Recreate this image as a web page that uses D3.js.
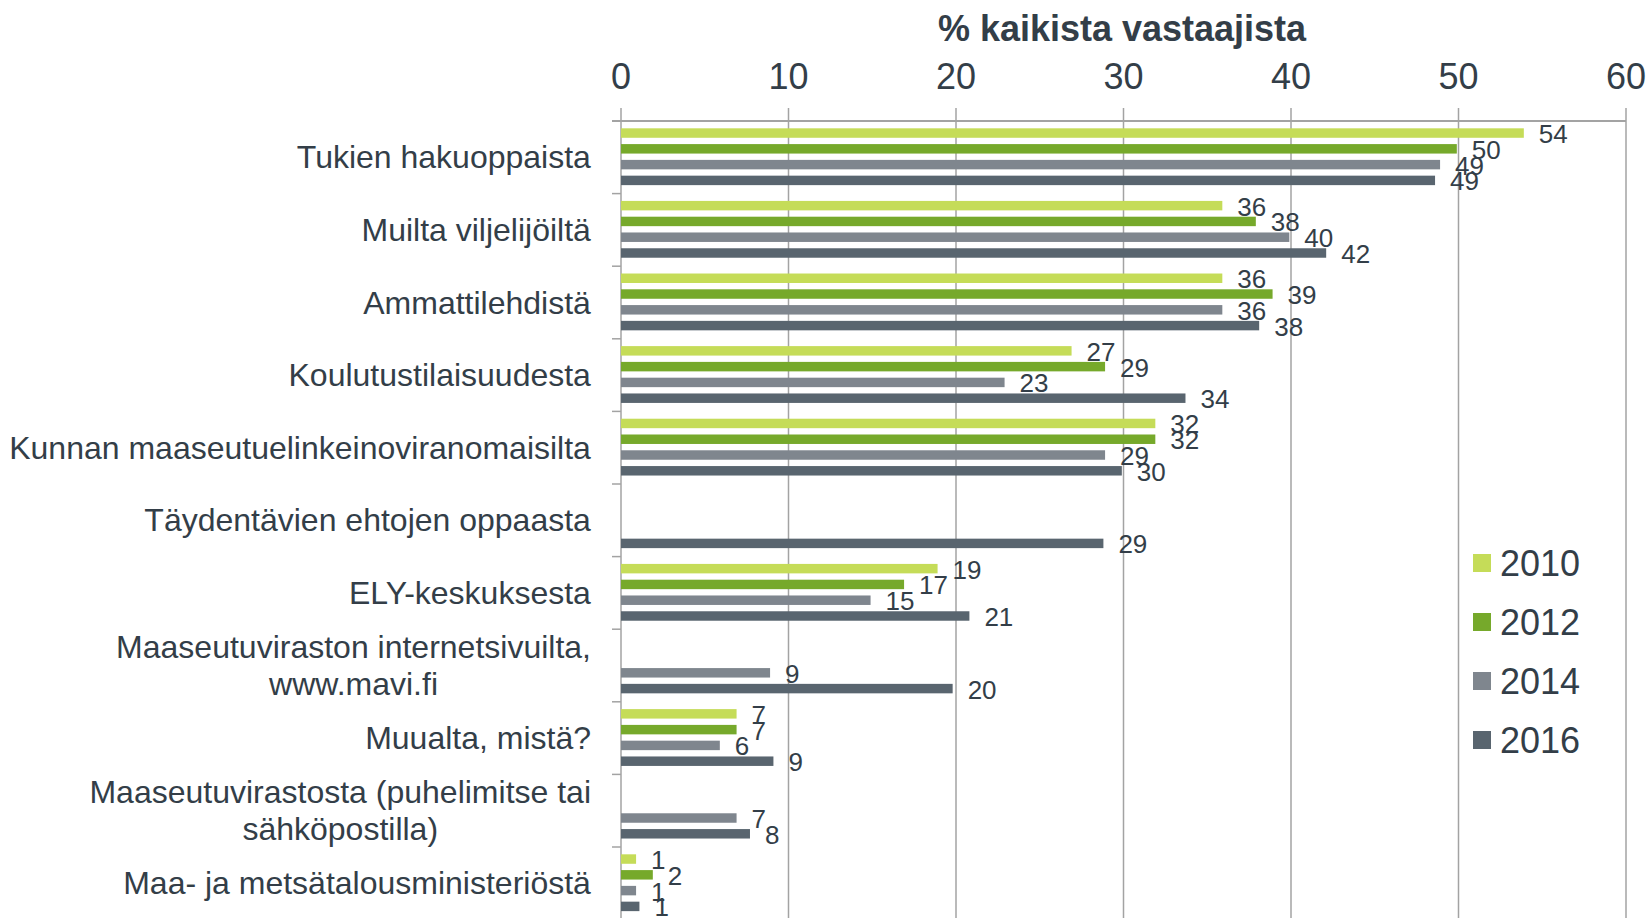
<!DOCTYPE html>
<html>
<head>
<meta charset="utf-8">
<script src="https://cdn.jsdelivr.net/npm/d3@7"></script>
<style>
  body { margin: 0; background: #fff; }
  text { font-family: "Liberation Sans", Arial, sans-serif; fill: #333e48; }
</style>
</head>
<body>
<svg id="chart" width="1650" height="918"></svg>
<script>
// categories, one or two lines each
var categories = [
  ["Tukien hakuoppaista"],
  ["Muilta viljelijöiltä"],
  ["Ammattilehdistä"],
  ["Koulutustilaisuudesta"],
  ["Kunnan maaseutuelinkeinoviranomaisilta"],
  ["Täydentävien ehtojen oppaasta"],
  ["ELY-keskuksesta"],
  ["Maaseutuviraston internetsivuilta,", "www.mavi.fi"],
  ["Muualta, mistä?"],
  ["Maaseutuvirastosta (puhelimitse tai", "sähköpostilla)"],
  ["Maa- ja metsätalousministeriöstä"]
];
var years = ["2010", "2012", "2014", "2016"];
var colors = ["#c5dc58", "#76a92b", "#7f868e", "#59656f"];

// % kaikista vastaajista, null = not asked that year
var v2010 = [53.9, 35.9, 35.9, 26.9, 31.9, null, 18.9, null, 6.9, null, 0.9];
var v2012 = [49.9, 37.9, 38.9, 28.9, 31.9, null, 16.9, null, 6.9, null, 1.9];
var v2014 = [48.9, 39.9, 35.9, 22.9, 28.9, null, 14.9, 8.9, 5.9, 6.9, 0.9];
var v2016 = [48.6, 42.1, 38.1, 33.7, 29.9, 28.8, 20.8, 19.8, 9.1, 7.7, 1.1];
var xTicks = [0, 10, 20, 30, 40, 50, 60];

var series = [v2010, v2012, v2014, v2016];

var svg = d3.select("#chart");
var top_y = 121, band = 72.6;

var x = d3.scaleLinear().domain([0, 60]).range([621, 1626]);
var y = d3.scaleBand().domain(d3.range(categories.length))
  .range([top_y, top_y + band * categories.length]);
var yInner = d3.scaleBand().domain(years).range([1, band + 1])
  .paddingInner(0.4).paddingOuter(0.5).align(0.4);

// grid lines
svg.selectAll("line.grid").data(xTicks).enter()
  .append("line")
  .attr("x1", d => x(d)).attr("x2", d => x(d))
  .attr("y1", top_y - 13).attr("y2", 918)
  .attr("stroke", "#a3a3a3").attr("stroke-width", 1.5);

// top axis line
svg.append("line")
  .attr("x1", x(0) - 9).attr("x2", x(60))
  .attr("y1", top_y).attr("y2", top_y)
  .attr("stroke", "#a3a3a3").attr("stroke-width", 2);

// left axis ticks
svg.selectAll("line.ytick").data(d3.range(categories.length + 1)).enter()
  .append("line")
  .attr("x1", x(0) - 9).attr("x2", x(0))
  .attr("y1", d => top_y + d * band).attr("y2", d => top_y + d * band)
  .attr("stroke", "#a3a3a3").attr("stroke-width", 1.5);

// tick labels
svg.selectAll("text.xtick").data(xTicks).enter()
  .append("text")
  .attr("x", d => x(d)).attr("y", 89)
  .attr("text-anchor", "middle")
  .style("font-size", "36px")
  .text(d => d);

// axis title
svg.append("text")
  .attr("x", 1122).attr("y", 41)
  .attr("text-anchor", "middle")
  .style("font-size", "36px").style("font-weight", "bold")
  .text("% kaikista vastaajista");

// category labels
categories.forEach(function(lines, i) {
  var cy = y(i) + band / 2;
  var lh = 37;
  var t = svg.append("text")
    .attr("text-anchor", "middle")
    .style("font-size", "32px");
  lines.forEach(function(l, j) {
    t.append("tspan").attr("x", 0)
      .attr("y", cy + (j - (lines.length - 1) / 2) * lh + 11)
      .text(l);
  });
  // right align the block, lines centred inside it
  var w = t.node().getBBox().width;
  t.attr("transform", "translate(" + (591 - w / 2) + ",0)");
});

// bars
years.forEach(function(yr, s) {
  var g = svg.append("g");
  var data = series[s].map((v, i) => ({ v: v, i: i })).filter(d => d.v != null);
  g.selectAll("rect").data(data).enter()
    .append("rect")
    .attr("x", x(0))
    .attr("y", d => y(d.i) + yInner(yr))
    .attr("width", d => x(d.v) - x(0))
    .attr("height", yInner.bandwidth())
    .attr("fill", colors[s]);
  g.selectAll("text").data(data).enter()
    .append("text")
    .attr("x", d => x(d.v) + 15)
    .attr("y", d => y(d.i) + yInner(yr) + yInner.bandwidth() / 2 + 10)
    .style("font-size", "26px")
    .text(d => Math.round(d.v));
});

// legend
var legend = svg.append("g").attr("transform", "translate(1473,563)");
years.forEach(function(yr, s) {
  legend.append("rect")
    .attr("x", 0).attr("y", s * 59 - 9)
    .attr("width", 18).attr("height", 18)
    .attr("fill", colors[s]);
  legend.append("text")
    .attr("x", 27).attr("y", s * 59 + 13)
    .style("font-size", "36px")
    .text(yr);
});
</script>
</body>
</html>
